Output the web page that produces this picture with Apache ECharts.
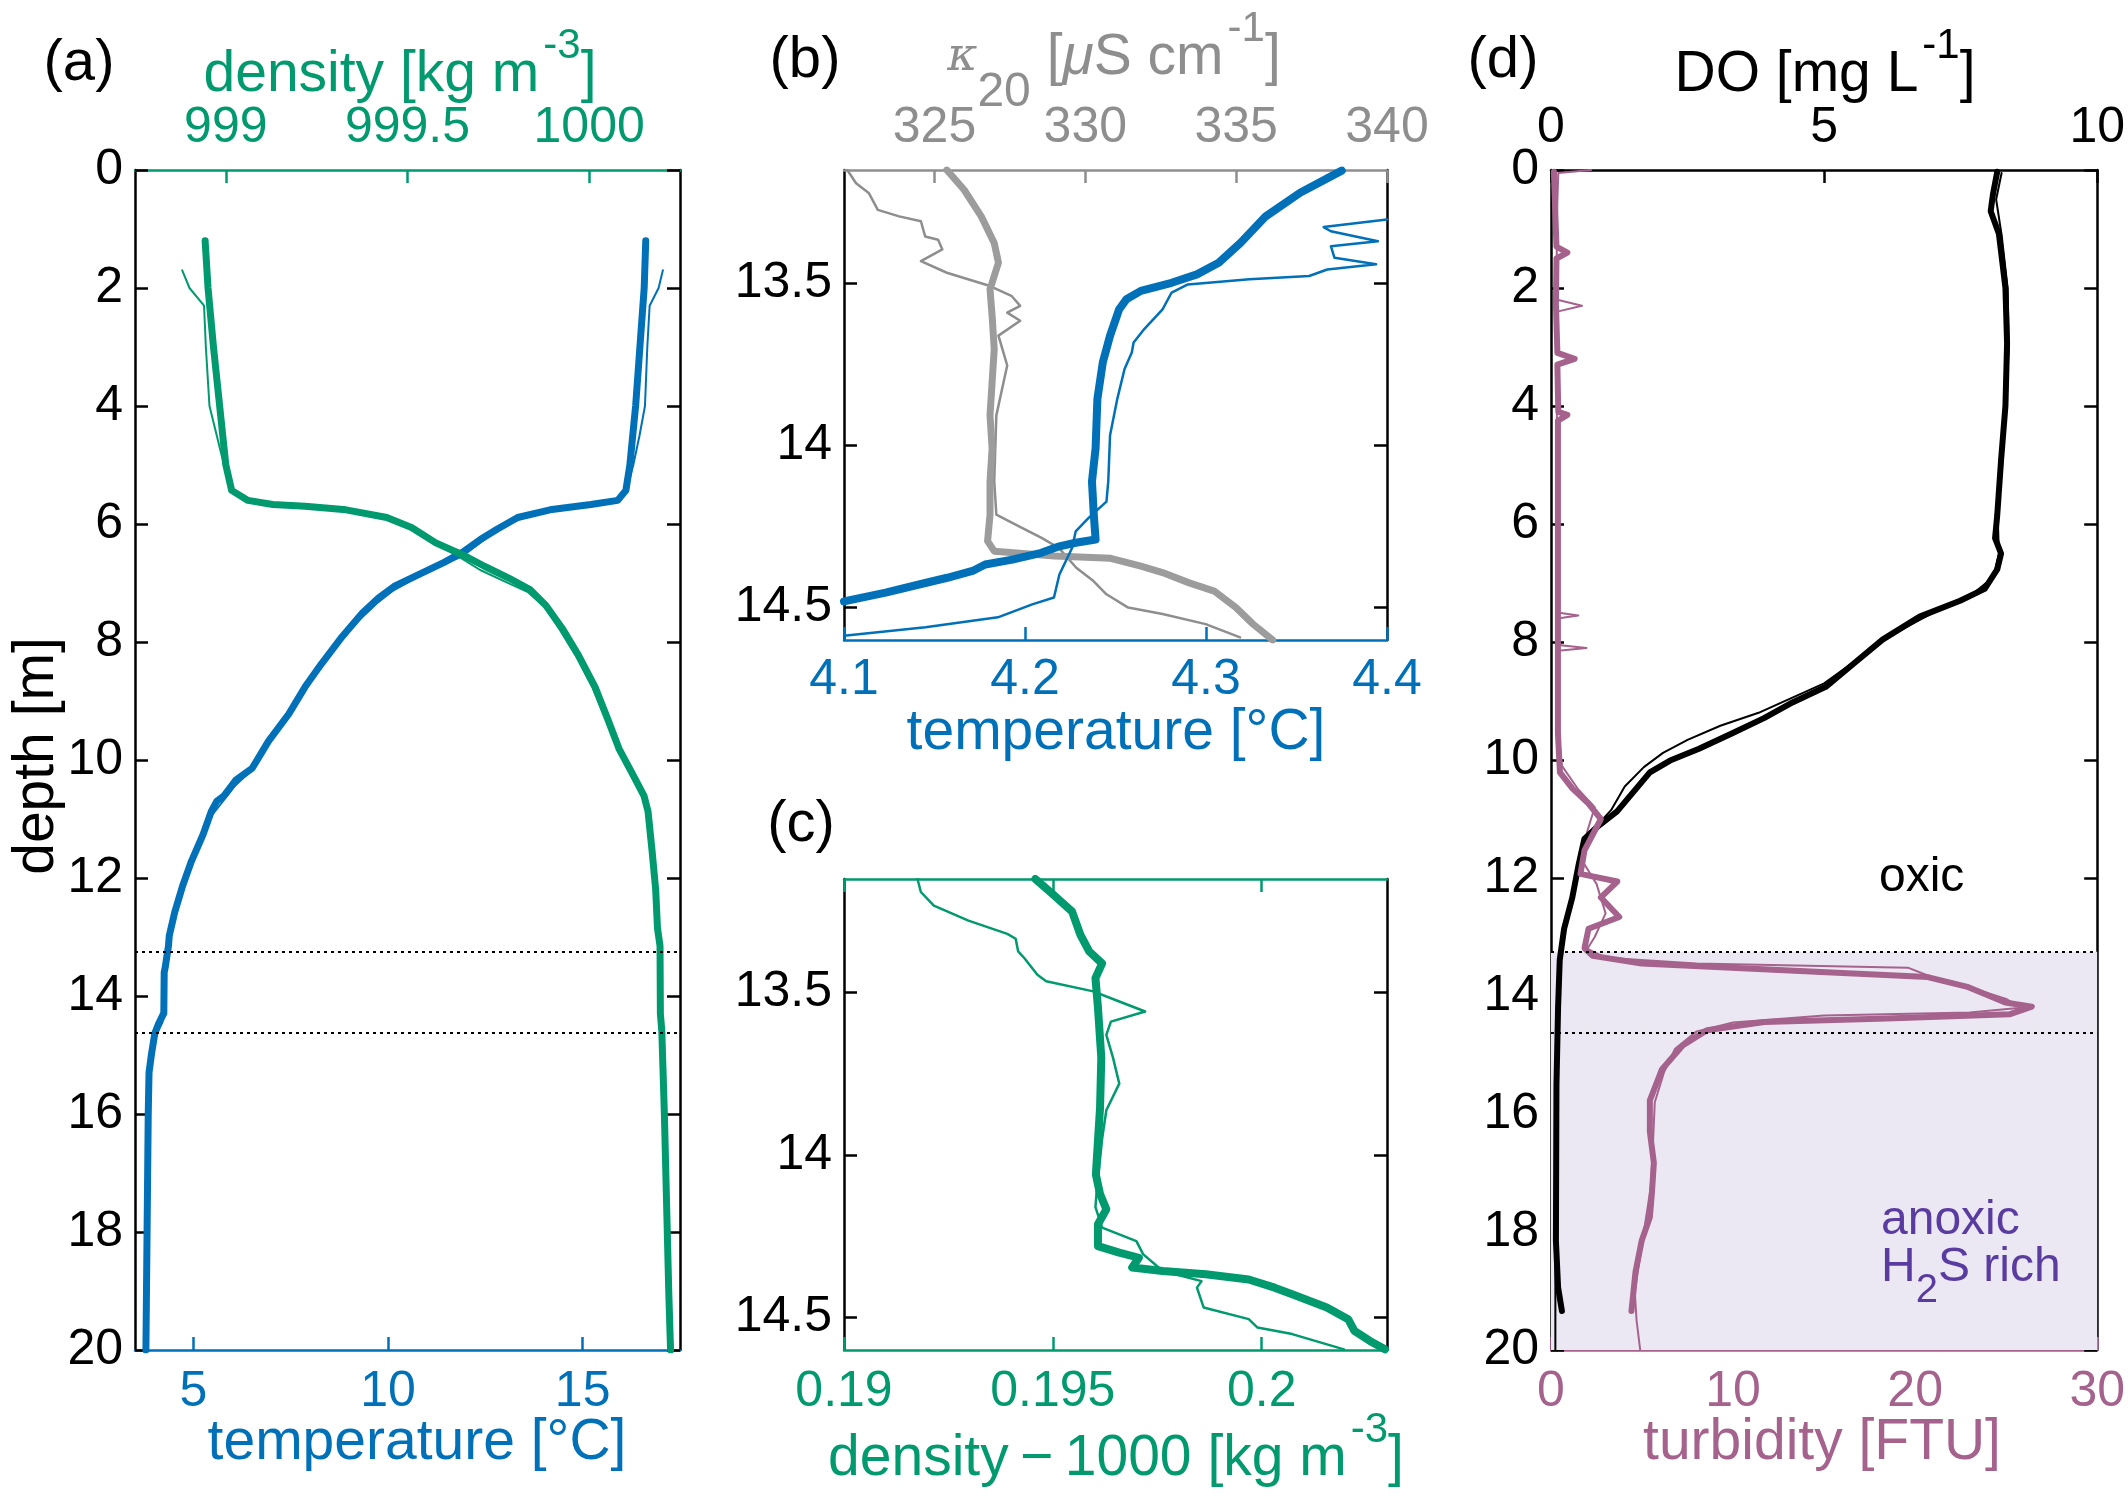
<!DOCTYPE html>
<html><head><meta charset="utf-8">
<script src="https://cdn.jsdelivr.net/npm/echarts@6/dist/echarts.min.js"></script>
<style>html,body{margin:0;padding:0;background:#fff}#c{width:2128px;height:1498px}</style>
</head><body><div id="c"></div>
<script>
// ---------------- DATA ----------------
// Panel (a): [temperature °C, depth m]
const aTempThick = [[16.62,1.2],[16.58,2],[16.47,3],[16.36,4],[16.21,5.01],[16.11,5.43],[15.9,5.6],[15.21,5.67],[14.16,5.76],[13.33,5.89],[12.8,6.09],[12.38,6.26],[11.91,6.48],[11.44,6.65],[10.81,6.85],[10.18,7.05],[9.76,7.25],[9.34,7.51],[8.82,7.91],[8.29,8.37],[7.87,8.76],[7.45,9.22],[6.93,9.68],[6.51,10.14],[6.09,10.34],[5.78,10.61],[5.6,10.7],[5.46,10.87],[5.25,11.26],[4.94,11.73],[4.73,12.12],[4.52,12.58],[4.38,12.98],[4.36,13.15],[4.28,13.5],[4.25,13.6],[4.24,14.29],[4.1,14.48],[4.01,14.63],[3.92,15.0],[3.86,15.3],[3.84,16],[3.81,18],[3.78,20]];
const aTempThin = [[17.06,1.7],[16.95,2.0],[16.72,2.3],[16.66,3],[16.6,4],[16.46,4.5],[16.3,5],[16.14,5.4],[15.92,5.6],[15.25,5.67],[14.2,5.77],[13.4,5.9],[12.85,6.1],[12.4,6.3],[11.9,6.55],[11.3,6.72],[10.7,6.92],[10.15,7.12],[9.7,7.35],[9.3,7.6],[8.75,7.98],[8.25,8.42],[7.8,8.85],[7.35,9.3],[6.85,9.78],[6.45,10.2],[6.05,10.45],[5.7,10.75],[5.4,11.0],[5.15,11.4],[4.88,11.85],[4.62,12.35],[4.42,12.9],[4.35,13.2],[4.26,13.6],[4.25,14.2],[4.2,14.45],[4.05,14.65],[3.93,15.05],[3.86,15.5],[3.83,17],[3.8,20]];
// Panel (a): [density kg m-3, depth m]
const aDensThick = [[998.943,1.2],[998.951,2],[998.966,3],[998.983,4],[999.0,5],[999.016,5.43],[999.061,5.6],[999.129,5.67],[999.218,5.7],[999.331,5.76],[999.443,5.89],[999.511,6.06],[999.578,6.32],[999.651,6.52],[999.713,6.72],[999.78,6.92],[999.837,7.11],[999.881,7.38],[999.926,7.77],[999.971,8.23],[1000.016,8.76],[1000.05,9.29],[1000.083,9.82],[1000.117,10.21],[1000.151,10.61],[1000.162,10.87],[1000.173,11.53],[1000.183,12.19],[1000.188,12.85],[1000.195,13.15],[1000.196,14.3],[1000.2,14.6],[1000.203,15.2],[1000.207,16],[1000.211,17],[1000.215,18],[1000.219,19],[1000.224,20]];
const aDensThin = [[998.88,1.7],[998.9,2.0],[998.94,2.3],[998.945,3],[998.955,4],[998.975,4.5],[998.995,5],[999.015,5.4],[999.06,5.58],[999.13,5.65],[999.22,5.69],[999.33,5.75],[999.44,5.88],[999.51,6.05],[999.57,6.3],[999.64,6.55],[999.7,6.78],[999.77,6.98],[999.83,7.15],[999.88,7.42],[999.92,7.8],[999.965,8.25],[1000.01,8.78],[1000.045,9.3],[1000.08,9.85],[1000.115,10.25],[1000.148,10.65],[1000.16,10.9],[1000.172,11.5],[1000.182,12.2],[1000.187,12.85],[1000.192,13.15],[1000.197,14.3],[1000.2,14.6],[1000.204,15.2],[1000.208,16],[1000.212,17],[1000.216,18],[1000.22,19],[1000.223,20]];

// Panel (b): [temperature °C, depth m]
const bTempThick = [[4.375,13.152],[4.352,13.22],[4.333,13.293],[4.319,13.375],[4.307,13.436],[4.295,13.472],[4.281,13.498],[4.264,13.523],[4.256,13.549],[4.252,13.58],[4.247,13.661],[4.243,13.743],[4.24,13.856],[4.239,14.009],[4.237,14.111],[4.238,14.213],[4.239,14.29],[4.228,14.3],[4.219,14.311],[4.209,14.331],[4.193,14.352],[4.178,14.367],[4.171,14.387],[4.157,14.408],[4.142,14.428],[4.123,14.454],[4.1,14.481]];
const bTempThin = [[4.4,13.303],[4.365,13.326],[4.369,13.339],[4.395,13.37],[4.369,13.385],[4.371,13.421],[4.394,13.441],[4.367,13.457],[4.357,13.477],[4.324,13.487],[4.29,13.503],[4.281,13.528],[4.276,13.58],[4.266,13.64],[4.26,13.682],[4.259,13.713],[4.255,13.764],[4.251,13.856],[4.247,13.968],[4.246,14.111],[4.245,14.173],[4.235,14.224],[4.228,14.265],[4.226,14.316],[4.219,14.398],[4.216,14.469],[4.204,14.49],[4.185,14.53],[4.145,14.561],[4.1,14.587]];
// Panel (b): [kappa20 µS cm-1, depth m]
const bKappaThick = [[325.41,13.15],[325.98,13.211],[326.55,13.293],[326.98,13.375],[327.12,13.436],[326.84,13.518],[326.91,13.6],[326.98,13.702],[326.91,13.804],[326.84,13.907],[326.91,14.009],[326.84,14.111],[326.84,14.213],[326.76,14.295],[326.98,14.326],[328.98,14.341],[330.84,14.348],[331.84,14.372],[332.56,14.392],[333.42,14.423],[334.27,14.449],[334.99,14.5],[335.56,14.551],[336.21,14.6]];
const bKappaThin = [[322.11,13.15],[322.4,13.191],[322.83,13.222],[323.12,13.273],[323.83,13.293],[324.55,13.308],[324.69,13.355],[325.12,13.365],[325.26,13.395],[324.55,13.431],[325.41,13.467],[326.84,13.508],[327.55,13.538],[327.84,13.569],[327.41,13.59],[327.84,13.615],[327.12,13.661],[327.41,13.753],[327.05,13.907],[326.98,14.111],[327.05,14.213],[327.69,14.244],[328.55,14.285],[329.12,14.316],[329.7,14.377],[330.27,14.418],[330.7,14.459],[331.42,14.5],[332.56,14.52],[333.99,14.551],[335.13,14.592]];

// Panel (c): [density-1000 kg m-3, depth m]
const cDensThick = [[0.19458,13.15],[0.19494,13.19],[0.19546,13.25],[0.19566,13.322],[0.19587,13.373],[0.19618,13.41],[0.19602,13.455],[0.19608,13.546],[0.19616,13.7],[0.19613,13.855],[0.19608,13.956],[0.19603,14.06],[0.19613,14.12],[0.19628,14.167],[0.19608,14.213],[0.19608,14.28],[0.19659,14.3],[0.19706,14.316],[0.1969,14.346],[0.19763,14.357],[0.19866,14.367],[0.19969,14.383],[0.20031,14.408],[0.20073,14.428],[0.20156,14.469],[0.20207,14.505],[0.20222,14.541],[0.20259,14.572],[0.20295,14.598]];
const cDensThin = [[0.19176,13.15],[0.19184,13.19],[0.19215,13.232],[0.19298,13.278],[0.19391,13.319],[0.19411,13.334],[0.19417,13.373],[0.19432,13.394],[0.19463,13.445],[0.19484,13.465],[0.19597,13.496],[0.19659,13.527],[0.19721,13.558],[0.19639,13.589],[0.19628,13.63],[0.19644,13.7],[0.19659,13.78],[0.19628,13.862],[0.19618,13.95],[0.19605,14.11],[0.19602,14.16],[0.19618,14.223],[0.197,14.265],[0.19716,14.305],[0.19763,14.357],[0.19856,14.388],[0.19845,14.408],[0.19861,14.469],[0.19969,14.505],[0.1999,14.531],[0.20073,14.551],[0.20197,14.598]];

// Panel (d): [DO mg L-1, depth m]
const dDOThick = [[8.17,0.03],[8.09,0.42],[8.05,0.7],[8.2,1.08],[8.32,2.0],[8.35,2.94],[8.32,4.0],[8.24,4.92],[8.17,5.85],[8.13,6.24],[8.24,6.5],[8.17,6.77],[7.94,7.1],[7.49,7.3],[6.75,7.57],[6.07,7.96],[5.55,8.36],[5.03,8.76],[4.43,9.02],[3.9,9.29],[3.31,9.55],[2.71,9.81],[2.18,10.01],[1.81,10.21],[1.51,10.54],[1.21,10.87],[0.84,11.14],[0.61,11.34],[0.5,11.8],[0.39,12.33],[0.24,12.86],[0.16,13.39],[0.13,14.18],[0.1,15.5],[0.09,18.15],[0.13,18.94],[0.2,19.34]];
const dDOThin = [[8.25,0.05],[8.15,0.5],[8.25,1.1],[8.36,2],[8.38,3],[8.33,4],[8.26,5],[8.18,5.9],[8.2,6.5],[8.1,6.9],[7.7,7.2],[7.0,7.5],[6.2,7.9],[5.6,8.3],[5.0,8.7],[4.4,8.95],[3.8,9.2],[3.1,9.42],[2.5,9.66],[2.05,9.88],[1.7,10.12],[1.35,10.45],[1.1,10.85],[0.8,11.15],[0.6,11.6],[0.45,12.1],[0.3,12.6],[0.18,13.1],[0.12,14],[0.1,15.5],[0.08,17],[0.08,20]];
// Panel (d): [turbidity FTU, depth m]
const dTurbThick = [[0.16,0.03],[0.3,1.3],[0.9,1.4],[0.3,1.5],[0.27,2.27],[0.35,3.1],[1.3,3.2],[0.35,3.3],[0.4,4.1],[0.9,4.15],[0.38,4.25],[0.38,6.24],[0.38,9.55],[0.49,10.21],[1.17,10.48],[2.06,10.74],[2.74,11.0],[1.84,11.53],[1.62,11.93],[3.64,12.06],[2.74,12.33],[3.75,12.66],[2.06,12.86],[1.84,13.19],[2.29,13.32],[4.98,13.45],[13.96,13.58],[20.69,13.68],[22.93,13.85],[24.95,14.11],[26.41,14.18],[25.18,14.31],[18.44,14.38],[11.71,14.44],[8.57,14.58],[7.23,14.84],[6.1,15.24],[5.43,15.77],[5.43,16.3],[5.65,16.83],[5.54,17.35],[5.43,17.75],[4.98,18.15],[4.64,18.68],[4.42,19.34]];
const dTurbThin = [[2.2,0.0],[0.4,0.05],[0.3,1],[0.35,2.2],[1.7,2.3],[0.35,2.4],[0.35,3.1],[1.3,3.2],[0.35,3.3],[0.3,5],[0.35,7.5],[1.5,7.55],[0.35,7.6],[0.4,8.05],[1.95,8.1],[0.4,8.15],[0.4,9.5],[0.6,10.1],[1.5,10.5],[2.4,10.8],[2.0,11.2],[1.7,11.7],[2.5,12.1],[3.0,12.6],[2.4,13.0],[2.0,13.2],[3.0,13.35],[8,13.45],[19.6,13.52],[21.5,13.75],[23.5,13.9],[25.0,14.05],[25.8,14.2],[23,14.28],[15,14.33],[10,14.45],[8,14.6],[6.8,14.9],[6.2,15.3],[5.7,15.8],[5.6,16.5],[5.5,17.2],[5.2,17.8],[4.9,18.4],[4.6,19],[4.7,19.5],[4.9,20]];

// boundaries (depth m)
const dividerDepths = [13.25, 14.62];
const anoxicRange = [13.25, 20];

// tick labels
const depthTicksZoom = [13.5, 14, 14.5];
const tempTicksA = [5, 10, 15];
const densTicksA = [999, 999.5, 1000];
const tempTicksB = [4.1, 4.2, 4.3, 4.4];
const kappaTicksB = [325, 330, 335, 340];
const densTicksC = [0.19, 0.195, 0.2];

// ---------------- STYLE ----------------
const FONT = 'Liberation Sans, Arial, Helvetica, sans-serif';
const BLUE = '#0070b8', GREEN = '#009a6e', GRAY = '#8e8e8e', GRAYT = '#9c9c9c', MAUVE = '#a5628c', PURPLE = '#5a3ca0', BLACK = '#000';
const TICK = 50;

const grids = [
  {left: 135, top: 170, width: 545, height: 1180},
  {left: 844, top: 170, width: 543, height: 470},
  {left: 844, top: 879, width: 543, height: 471},
  {left: 1551, top: 170, width: 547, height: 1180}
];

function axis(o) {
  const a = {
    type: 'value', gridIndex: o.g, position: o.pos, min: o.min, max: o.max,
    inverse: !!o.inverse,
    splitLine: {show: false},
    axisLine: {show: true, onZero: false, lineStyle: {color: o.lineColor || o.color, width: 2.5}},
    axisTick: {show: true, inside: true, length: 13, lineStyle: {color: o.color, width: 2.5}},
    axisLabel: {show: o.labels !== false, color: o.color, fontSize: TICK, fontFamily: FONT, margin: o.margin || 14,
      hideOverlap: false, formatter: function (v) { return String(+(+v).toFixed(6)); }}
  };
  if (o.interval) { a.interval = o.interval; a.axisLabel.showMinLabel = true; a.axisLabel.showMaxLabel = true; }
  if (o.ticks) { a.axisLabel.customValues = o.ticks; a.axisTick.customValues = o.ticks; }
  return a;
}

const xAxes = [
  axis({g:0,pos:'bottom',min:3.5,max:17.5,color:BLUE,ticks:tempTicksA,margin:17}),
  axis({g:0,pos:'top',min:998.75,max:1000.25,color:GREEN,ticks:densTicksA,margin:17}),
  axis({g:1,pos:'bottom',min:4.1,max:4.4,color:BLUE,ticks:tempTicksB,margin:15}),
  axis({g:1,pos:'top',min:322,max:340,color:GRAY,ticks:kappaTicksB,margin:17}),
  axis({g:2,pos:'bottom',min:0.19,max:0.203,color:GREEN,ticks:densTicksC,margin:17}),
  axis({g:2,pos:'top',min:0.19,max:0.203,color:GREEN,ticks:densTicksC,labels:false}),
  axis({g:3,pos:'bottom',min:0,max:30,color:MAUVE,interval:10,margin:17}),
  axis({g:3,pos:'top',min:0,max:10,color:BLACK,interval:5,margin:17})
];
const yAxes = [
  axis({g:0,pos:'left',min:0,max:20,inverse:true,interval:2,color:BLACK,margin:12}),
  axis({g:0,pos:'right',min:0,max:20,inverse:true,interval:2,color:BLACK,labels:false}),
  axis({g:1,pos:'left',min:13.15,max:14.6,inverse:true,ticks:depthTicksZoom,color:BLACK,margin:12}),
  axis({g:1,pos:'right',min:13.15,max:14.6,inverse:true,ticks:depthTicksZoom,color:BLACK,labels:false}),
  axis({g:2,pos:'left',min:13.15,max:14.6,inverse:true,ticks:depthTicksZoom,color:BLACK,margin:12}),
  axis({g:2,pos:'right',min:13.15,max:14.6,inverse:true,ticks:depthTicksZoom,color:BLACK,labels:false}),
  axis({g:3,pos:'left',min:0,max:20,inverse:true,interval:2,color:BLACK,margin:12}),
  axis({g:3,pos:'right',min:0,max:20,inverse:true,interval:2,color:BLACK,labels:false})
];

function ln(xi, yi, data, color, width, z) {
  return {type:'line', xAxisIndex:xi, yAxisIndex:yi, data:data, showSymbol:false, symbol:'none',
    lineStyle:{color:color, width:width, join:'round', cap:'round'}, z:z||3, silent:true, clip:true, animation:false};
}
const dottedLine = {silent:true, symbol:'none', animation:false, label:{show:false},
  lineStyle:{color:BLACK, width:2.2, type:[3,4]}, data: dividerDepths.map(v => ({yAxis:v}))};

const series = [
  // panel d shading + dotted boundaries
  {type:'line', xAxisIndex:6, yAxisIndex:6, data:[], z:1, silent:true, animation:false,
    markArea:{silent:true, itemStyle:{color:'#ebe8f3'}, data:[[{yAxis:anoxicRange[0]},{yAxis:anoxicRange[1]}]]},
    markLine: dottedLine},
  // panel a
  Object.assign(ln(0,0,aTempThin,BLUE,2,3), {markLine: dottedLine}),
  ln(1,0,aDensThin,GREEN,2,3),
  ln(0,0,aTempThick,BLUE,7,4),
  ln(1,0,aDensThick,GREEN,7,4),
  // panel b
  ln(3,2,bKappaThin,GRAY,2.5,3),
  ln(3,2,bKappaThick,GRAYT,7,3),
  ln(2,2,bTempThin,BLUE,2.5,4),
  ln(2,2,bTempThick,BLUE,8,5),
  // panel c
  ln(4,4,cDensThin,GREEN,2.5,3),
  ln(4,4,cDensThick,GREEN,8,4),
  // panel d
  ln(7,6,dDOThin,BLACK,2,3),
  ln(6,6,dTurbThin,MAUVE,2,3),
  ln(7,6,dDOThick,BLACK,6,4),
  ln(6,6,dTurbThick,MAUVE,6,4)
];

function txt(x, y, text, rich, opt) {
  opt = opt || {};
  return {type:'text', x:x, y:y, rotation: opt.rot || 0, z: 10, silent:true,
    style:{text:text, align: opt.align || 'center', verticalAlign:'middle', fontFamily:FONT,
      fontSize: opt.size || 57, fill: opt.color || BLACK, rich: rich || {}}};
}
function richSet(color, size) {
  return {
    n:{fontSize:size, fontFamily:FONT, fill:color, verticalAlign:'middle'},
    sup:{fontSize:42, fontFamily:FONT, fill:color, padding:[0,0,58,4], verticalAlign:'middle'},
    sub:{fontSize:48, fontFamily:FONT, fill:color, padding:[70,0,0,0], verticalAlign:'middle'},
    it:{fontSize:size, fontFamily:FONT, fontStyle:'italic', fill:color, verticalAlign:'middle'},
    k:{fontSize:46, fontFamily:'DejaVu Serif, serif', fontStyle:'italic', fill:color, verticalAlign:'middle'},
    hsub:{fontSize:40, fontFamily:FONT, fill:color, padding:[46,0,0,0], verticalAlign:'middle'}
  };
}

const graphics = [
  txt(79, 64, '(a)', null, {size:58}),
  txt(805, 61, '(b)', null, {size:58}),
  txt(801, 825, '(c)', null, {size:58}),
  txt(1503, 61, '(d)', null, {size:58}),
  txt(400, 75, '{n|density [kg m}{sup|-3}{n|]}', richSet(GREEN,57), {color:GREEN}),
  txt(1114, 58, '{k|κ}{sub|20}{n| [}{it|μ}{n|S cm}{sup|-1}{n|]}', richSet(GRAY,57), {color:GRAY}),
  txt(1825, 75, '{n|DO [mg L}{sup|-1}{n|]}', richSet(BLACK,57)),
  txt(417, 1443, 'temperature [°C]', null, {color:BLUE}),
  txt(1116, 733, 'temperature [°C]', null, {color:BLUE}),
  txt(1116, 1459, '{n|density\u2009\u2212\u20091000 [kg m}{sup|-3}{n|]}', richSet(GREEN,57), {color:GREEN}),
  txt(1822, 1443, 'turbidity [FTU]', null, {color:MAUVE}),
  txt(37, 756, 'depth [m]', null, {rot: Math.PI/2}),
  txt(1879, 878, 'oxic', null, {align:'left', size:48}),
  txt(1881, 1221, 'anoxic', null, {align:'left', size:48, color:PURPLE}),
  txt(1881, 1268, '{n|H}{hsub|2}{n|S rich}', richSet(PURPLE,48), {align:'left', size:48, color:PURPLE})
];

const chart = echarts.init(document.getElementById('c'), null, {renderer:'canvas'});
chart.setOption({
  animation:false,
  backgroundColor:'#fff',
  grid: grids,
  xAxis: xAxes,
  yAxis: yAxes,
  series: series,
  graphic: graphics
});
</script></body></html>
